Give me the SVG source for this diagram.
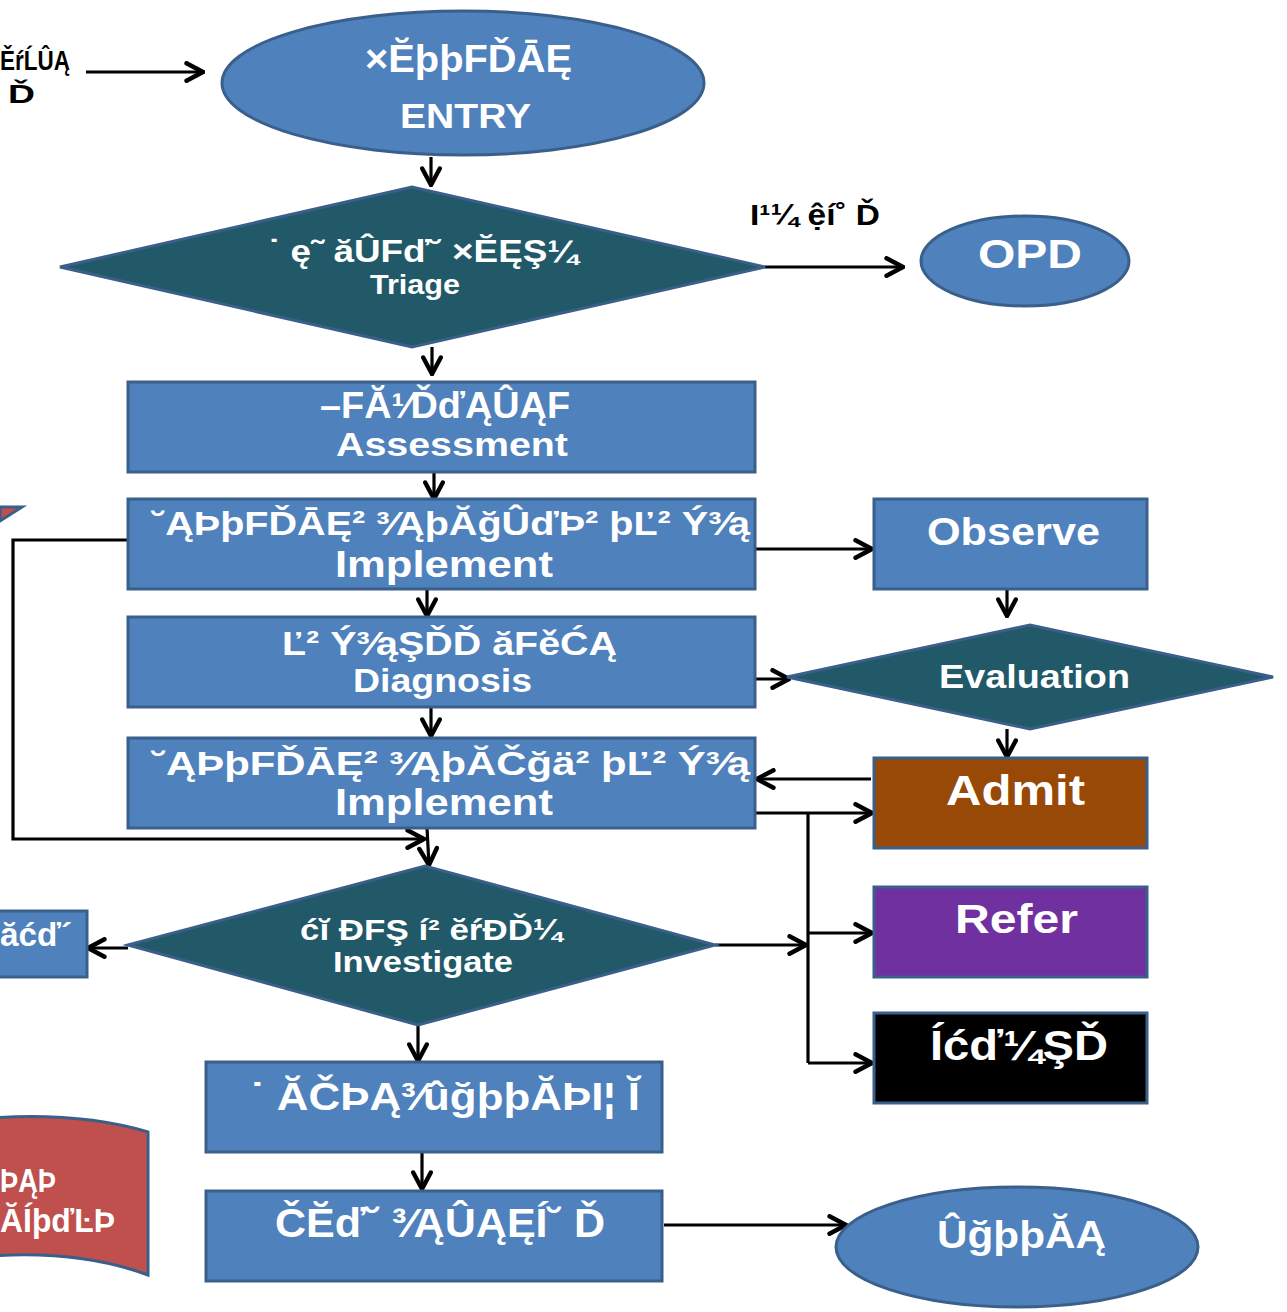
<svg xmlns="http://www.w3.org/2000/svg" width="1287" height="1312" viewBox="0 0 1287 1312">
<defs>
<marker id="arr" viewBox="0 0 20 20" refX="18" refY="10" markerWidth="22" markerHeight="22" markerUnits="userSpaceOnUse" orient="auto">
<path d="M3,2 L18,10 L3,18" fill="none" stroke="#000" stroke-width="4" stroke-linecap="round" stroke-linejoin="miter"/>
</marker>
</defs>
<style>
.b{fill:#4f81bd;stroke:#3a5f8b;stroke-width:3}
.d{fill:#215968;stroke:#3a5f8b;stroke-width:3}
.t{font-family:"Liberation Sans",Arial,sans-serif;font-weight:bold;fill:#fff;text-anchor:start}
.k{font-family:"Liberation Sans",Arial,sans-serif;font-weight:bold;fill:#000}
.c{fill:none;stroke:#000;stroke-width:3.2}
</style>
<rect width="1287" height="1312" fill="#fff"/>

<g id="connectors">
<line class="c" x1="86" y1="72" x2="203" y2="72" marker-end="url(#arr)"/>
<line class="c" x1="431" y1="157" x2="431" y2="185" marker-end="url(#arr)"/>
<line class="c" x1="765" y1="267" x2="903" y2="267" marker-end="url(#arr)"/>
<line class="c" x1="432" y1="347" x2="432" y2="374" marker-end="url(#arr)"/>
<line class="c" x1="434" y1="472" x2="434" y2="499" marker-end="url(#arr)"/>
<line class="c" x1="755" y1="549" x2="872" y2="549" marker-end="url(#arr)"/>
<line class="c" x1="427" y1="589" x2="427" y2="616" marker-end="url(#arr)"/>
<line class="c" x1="1007" y1="589" x2="1007" y2="616" marker-end="url(#arr)"/>
<line class="c" x1="755" y1="679" x2="789" y2="679" marker-end="url(#arr)"/>
<line class="c" x1="431" y1="707" x2="431" y2="736" marker-end="url(#arr)"/>
<line class="c" x1="1007" y1="729" x2="1007" y2="757" marker-end="url(#arr)"/>
<line class="c" x1="871" y1="779" x2="757" y2="779" marker-end="url(#arr)"/>
<line class="c" x1="755" y1="813" x2="872" y2="813" marker-end="url(#arr)"/>
<polyline class="c" points="808,813 808,1063"/>
<line class="c" x1="808" y1="933" x2="872" y2="933" marker-end="url(#arr)"/>
<line class="c" x1="808" y1="1063" x2="872" y2="1063" marker-end="url(#arr)"/>
<line class="c" x1="715" y1="945" x2="806" y2="945" marker-end="url(#arr)"/>
<polyline class="c" points="128,540 13,540 13,839 424,839" marker-end="url(#arr)"/>
<line class="c" x1="427" y1="828" x2="429" y2="865" marker-end="url(#arr)"/>
<line class="c" x1="128" y1="948" x2="88" y2="948" marker-end="url(#arr)"/>
<line class="c" x1="418" y1="1025" x2="418" y2="1061" marker-end="url(#arr)"/>
<line class="c" x1="422" y1="1152" x2="422" y2="1189" marker-end="url(#arr)"/>
<line class="c" x1="664" y1="1225" x2="846" y2="1225" marker-end="url(#arr)"/>
</g>

<g id="start-label">
<text class="k" x="0" y="70" font-size="27" textLength="70" lengthAdjust="spacingAndGlyphs">ĚŕĹÛĄ</text>
<text class="k" x="8" y="103" font-size="26" textLength="27" lengthAdjust="spacingAndGlyphs">Ď</text>
</g>

<g id="entry">
<ellipse class="b" cx="463" cy="83" rx="241" ry="72"/>
<text class="t" x="365" y="72" font-size="38" textLength="207" lengthAdjust="spacingAndGlyphs">×ĔþþFĎĀĘ</text>
<text class="t" x="400" y="128" font-size="35" textLength="131" lengthAdjust="spacingAndGlyphs">ENTRY</text>
</g>

<g id="triage">
<polygon class="d" points="60,267 412,187 765,267 412,347"/>
<text class="t" x="268" y="262" font-size="31" textLength="310" lengthAdjust="spacingAndGlyphs">˙ ę˜ ăÛFď˘ ×ĔĘŞ¼</text>
<text class="t" x="370" y="294" font-size="27" textLength="90" lengthAdjust="spacingAndGlyphs">Triage</text>
</g>

<g id="opd-label">
<text class="k" x="750" y="225" font-size="29" textLength="130" lengthAdjust="spacingAndGlyphs">I¹¼ ệí˚ Ď</text>
</g>

<g id="opd">
<ellipse class="b" cx="1025" cy="261" rx="104" ry="45"/>
<text class="t" x="978" y="268" font-size="40" textLength="104" lengthAdjust="spacingAndGlyphs">OPD</text>
</g>

<g id="assessment">
<rect class="b" x="128" y="382" width="627" height="90"/>
<text class="t" x="320" y="418" font-size="36" textLength="250" lengthAdjust="spacingAndGlyphs">–FĂ¹⁄ĎďĄÛĄF</text>
<text class="t" x="336" y="456" font-size="34" textLength="232" lengthAdjust="spacingAndGlyphs">Assessment</text>
</g>

<g id="implement1">
<rect class="b" x="128" y="499" width="627" height="90"/>
<text class="t" x="152" y="535" font-size="34" textLength="598" lengthAdjust="spacingAndGlyphs">˘ĄÞþFĎĀĘ² ³⁄ĄþĂğÛďÞ² þĽ² Ý³⁄ą</text>
<text class="t" x="335" y="577" font-size="37" textLength="218" lengthAdjust="spacingAndGlyphs">Implement</text>
</g>

<g id="observe">
<rect class="b" x="874" y="499" width="273" height="90"/>
<text class="t" x="927" y="545" font-size="39" textLength="173" lengthAdjust="spacingAndGlyphs">Observe</text>
</g>

<g id="diagnosis">
<rect class="b" x="128" y="617" width="627" height="90"/>
<text class="t" x="282" y="655" font-size="34" textLength="335" lengthAdjust="spacingAndGlyphs">Ľ² Ý³⁄ąŞĎĎ ăFěĆĄ</text>
<text class="t" x="353" y="692" font-size="34" textLength="179" lengthAdjust="spacingAndGlyphs">Diagnosis</text>
</g>

<g id="evaluation">
<polygon class="d" points="787,677 1030,625 1273,677 1030,729"/>
<text class="t" x="939" y="688" font-size="33" textLength="191" lengthAdjust="spacingAndGlyphs">Evaluation</text>
</g>

<g id="implement2">
<rect class="b" x="128" y="738" width="627" height="90"/>
<text class="t" x="152" y="775" font-size="34" textLength="598" lengthAdjust="spacingAndGlyphs">˘ĄÞþFĎĀĘ² ³⁄ĄþĂČğä² þĽ² Ý³⁄ą</text>
<text class="t" x="335" y="815" font-size="37" textLength="218" lengthAdjust="spacingAndGlyphs">Implement</text>
</g>

<g id="admit">
<rect x="874" y="758" width="273" height="90" fill="#984807" stroke="#3a5f8b" stroke-width="3"/>
<text class="t" x="946" y="805" font-size="42" textLength="139" lengthAdjust="spacingAndGlyphs">Admit</text>
</g>

<g id="investigate">
<polygon class="d" points="128,945 425,866 715,945 418,1025"/>
<text class="t" x="300" y="940" font-size="29" textLength="262" lengthAdjust="spacingAndGlyphs">ćĭ ĐFŞ í² ĕŕĐĎ¼</text>
<text class="t" x="333" y="972" font-size="29" textLength="180" lengthAdjust="spacingAndGlyphs">Investigate</text>
</g>

<g id="left-box">
<rect class="b" x="-10" y="911" width="97" height="66"/>
<text class="t" x="0" y="946" font-size="33" textLength="72" lengthAdjust="spacingAndGlyphs">ăćď´</text>
</g>

<g id="refer">
<rect x="874" y="887" width="273" height="90" fill="#7030a0" stroke="#3a5f8b" stroke-width="3"/>
<text class="t" x="955" y="933" font-size="40" textLength="123" lengthAdjust="spacingAndGlyphs">Refer</text>
</g>

<g id="black-box">
<rect x="874" y="1013" width="273" height="90" fill="#000" stroke="#3a5f8b" stroke-width="3"/>
<text class="t" x="930" y="1060" font-size="42" textLength="178" lengthAdjust="spacingAndGlyphs">Íćď¼ŞĎ</text>
</g>

<g id="box-after">
<rect class="b" x="206" y="1062" width="456" height="90"/>
<text class="t" x="250" y="1110" font-size="38" textLength="390" lengthAdjust="spacingAndGlyphs">˙ ĂČÞĄ³⁄ûğþþĂÞI¦ Ĭ</text>
</g>

<g id="last-box">
<rect class="b" x="206" y="1191" width="456" height="90"/>
<text class="t" x="275" y="1237" font-size="40" textLength="330" lengthAdjust="spacingAndGlyphs">ČĔď˘ ³⁄ĄÛĄĘÍ˘ Ď</text>
</g>

<g id="end">
<ellipse class="b" cx="1017" cy="1247" rx="181" ry="60"/>
<text class="t" x="937" y="1248" font-size="38" textLength="169" lengthAdjust="spacingAndGlyphs">ÛğþþĂĄ</text>
</g>

<g id="red-doc">
<path d="M-10,1118 Q80,1112 148,1132 L148,1275 Q80,1250 -10,1256 Z" fill="#c0504d" stroke="#3a5f8b" stroke-width="3"/>
<text class="t" x="0" y="1192" font-size="33" textLength="56" lengthAdjust="spacingAndGlyphs">ÞĄÞ</text>
<text class="t" x="0" y="1232" font-size="33" textLength="115" lengthAdjust="spacingAndGlyphs">ĂÍþďĿÞ</text>
</g>

<g id="corner-shape">
<polygon points="0,507 22,507 0,521" fill="#c0504d" stroke="#3a5f8b" stroke-width="3"/>
</g>
</svg>
